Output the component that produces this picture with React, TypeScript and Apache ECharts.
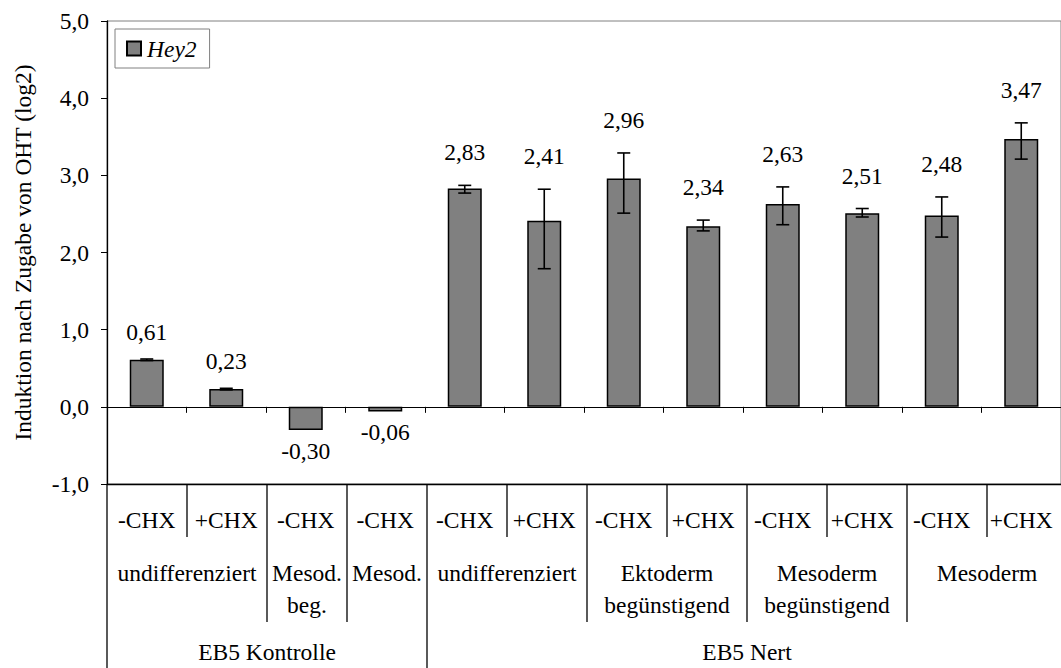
import React, { useEffect, useRef } from "react";
import * as echarts from "echarts";

const categories = ["-CHX", "+CHX", "-CHX", "-CHX", "-CHX", "+CHX", "-CHX", "+CHX", "-CHX", "+CHX", "-CHX", "+CHX"];
const values = [0.61, 0.23, -0.3, -0.06, 2.83, 2.41, 2.96, 2.34, 2.63, 2.51, 2.48, 3.47];
const errLow = [0.6, 0.22, -0.3, -0.06, 2.77, 1.79, 2.51, 2.28, 2.36, 2.46, 2.2, 3.21];
const errHigh = [0.62, 0.24, -0.3, -0.06, 2.87, 2.82, 3.29, 2.42, 2.85, 2.57, 2.72, 3.68];
const level2 = [
  { label: "undifferenziert", span: 2 },
  { label: "Mesod.\nbeg.", span: 1 },
  { label: "Mesod.", span: 1 },
  { label: "undifferenziert", span: 2 },
  { label: "Ektoderm\nbegünstigend", span: 2 },
  { label: "Mesoderm\nbegünstigend", span: 2 },
  { label: "Mesoderm", span: 2 },
];
const level3 = [
  { label: "EB5 Kontrolle", span: 4 },
  { label: "EB5 Nert", span: 8 },
];
const seriesName = "Hey2";
const yTitle = "Induktion nach Zugabe von OHT (log2)";

const FONT = "'Liberation Serif', 'Times New Roman', serif";
const FS = 23.5;
const GRID_LEFT = 107;
const GRID_TOP = 21;
const GRID_W = 960;
const GRID_H = 463;
const CAT_W = GRID_W / categories.length;
const TABLE_TOP = GRID_TOP + GRID_H;

const fmt = (v: number) => v.toFixed(2).replace(".", ",");

function boundaries(levels: { span: number }[]) {
  const s = new Set<number>();
  let c = 0;
  levels.forEach((l) => {
    c += l.span;
    s.add(c);
  });
  return s;
}

export default function App() {
  const ref = useRef<HTMLDivElement>(null);
  useEffect(() => {
    if (!ref.current) return;
    const chart = echarts.init(ref.current, null, { renderer: "svg" });

    const b2 = boundaries(level2);
    const b3 = boundaries(level3);
    const graphics: any[] = [];
    graphics.push({
      type: "line",
      shape: { x1: GRID_LEFT, y1: TABLE_TOP, x2: GRID_LEFT, y2: 668 },
      style: { stroke: "#000", lineWidth: 1.3 },
    });
    for (let i = 1; i <= categories.length; i++) {
      const x = GRID_LEFT + i * CAT_W;
      const y2 = b3.has(i) ? 668 : b2.has(i) ? 622 : 537;
      graphics.push({
        type: "line",
        shape: { x1: x, y1: TABLE_TOP, x2: x, y2 },
        style: { stroke: "#000", lineWidth: 1.3 },
      });
    }
    let c = 0;
    level2.forEach((l) => {
      const cx = GRID_LEFT + (c + l.span / 2) * CAT_W;
      graphics.push({
        type: "text",
        x: cx,
        y: 557,
        style: {
          text: l.label,
          fontFamily: FONT,
          fontSize: FS,
          fill: "#000",
          align: "center",
          verticalAlign: "top",
          lineHeight: 32,
        },
      });
      c += l.span;
    });
    c = 0;
    level3.forEach((l) => {
      const cx = GRID_LEFT + (c + l.span / 2) * CAT_W;
      graphics.push({
        type: "text",
        x: cx,
        y: 652,
        style: {
          text: l.label,
          fontFamily: FONT,
          fontSize: FS,
          fill: "#000",
          align: "center",
          verticalAlign: "middle",
        },
      });
      c += l.span;
    });

    const errData = categories.map((_, i) => [i, values[i], errLow[i], errHigh[i]]);

    chart.setOption({
      animation: false,
      textStyle: { fontFamily: FONT },
      grid: {
        left: GRID_LEFT,
        top: GRID_TOP,
        width: GRID_W,
        height: GRID_H,
        show: true,
        borderColor: "#808080",
        borderWidth: 1,
        backgroundColor: "transparent",
      },
      legend: {
        left: 115,
        top: 29,
        orient: "vertical",
        padding: [8, 13, 8, 11],
        borderColor: "#808080",
        borderWidth: 1,
        itemWidth: 14,
        itemHeight: 14,
        icon: "rect",
        data: [seriesName],
        textStyle: {
          fontFamily: FONT,
          fontSize: FS,
          fontStyle: "italic",
          color: "#000",
          padding: [0, 0, 0, 1],
        },
      },
      xAxis: [
        {
          type: "category",
          data: categories,
          axisLine: { onZero: true, lineStyle: { color: "#000", width: 1 } },
          axisTick: { show: true, length: 6, lineStyle: { color: "#000" } },
          axisLabel: { show: false },
          splitLine: { show: false },
        },
        {
          type: "category",
          data: categories,
          position: "bottom",
          axisLine: { onZero: false, show: true, lineStyle: { color: "#000", width: 1.3 } },
          axisTick: { show: false },
          axisLabel: {
            show: true,
            margin: 24,
            fontFamily: FONT,
            fontSize: FS,
            color: "#000",
            interval: 0,
          },
          splitLine: { show: false },
        },
      ],
      yAxis: {
        type: "value",
        min: -1,
        max: 5,
        interval: 1,
        name: yTitle,
        nameLocation: "middle",
        nameGap: 72,
        nameTextStyle: { fontFamily: FONT, fontSize: FS, color: "#000" },
        axisLine: { show: true, lineStyle: { color: "#000", width: 1.3 } },
        axisTick: { show: true, length: 6, lineStyle: { color: "#000" } },
        axisLabel: {
          margin: 18,
          fontFamily: FONT,
          fontSize: FS,
          color: "#000",
          formatter: (v: number) => v.toFixed(1).replace(".", ","),
        },
        splitLine: { show: false },
      },
      series: [
        {
          name: seriesName,
          type: "bar",
          xAxisIndex: 0,
          data: values,
          barWidth: 34,
          itemStyle: { color: "#808080", borderColor: "#000", borderWidth: 1.5 },
        },
        {
          type: "custom",
          xAxisIndex: 0,
          data: errData,
          encode: { x: 0, y: 1 },
          z: 5,
          silent: true,
          renderItem: (params: any, api: any) => {
            const i = api.value(0);
            const v = api.value(1);
            const lo = api.value(2);
            const hi = api.value(3);
            const pV = api.coord([i, v]);
            const pLo = api.coord([i, lo]);
            const pHi = api.coord([i, hi]);
            const x = pV[0];
            const cap = 6.5;
            const st = { stroke: "#000", lineWidth: 1.6 };
            const children: any[] = [];
            if (hi !== lo) {
              children.push({ type: "line", shape: { x1: x, y1: pLo[1], x2: x, y2: pHi[1] }, style: st });
              children.push({ type: "line", shape: { x1: x - cap, y1: pHi[1], x2: x + cap, y2: pHi[1] }, style: st });
              children.push({ type: "line", shape: { x1: x - cap, y1: pLo[1], x2: x + cap, y2: pLo[1] }, style: st });
            }
            const ts = {
              text: fmt(v),
              fontFamily: FONT,
              fontSize: FS,
              fill: "#000",
              align: "center",
            };
            if (v >= 0) {
              const top = Math.min(pV[1], pHi[1]);
              const gap = hi - lo > 0.05 ? 21 : 15;
              children.push({ type: "text", x, y: top - gap, style: { ...ts, verticalAlign: "bottom" } });
            } else {
              children.push({ type: "text", x, y: pV[1] + 9, style: { ...ts, verticalAlign: "top" } });
            }
            return { type: "group", children };
          },
        },
      ],
      graphic: graphics,
    });
    return () => chart.dispose();
  }, []);
  return (
    <div
      ref={ref}
      style={{ position: "absolute", left: 0, top: 0, width: 1061, height: 668, background: "#fff" }}
    />
  );
}
